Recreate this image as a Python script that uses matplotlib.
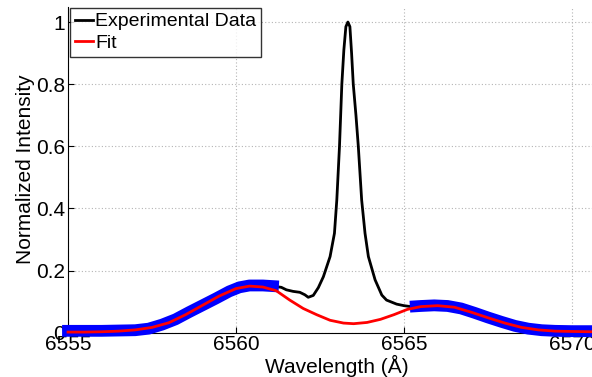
import numpy as np
import matplotlib.pyplot as plt

plt.rcParams['font.family'] = ['Liberation Sans', 'DejaVu Sans']

# Experimental spectrum
wavelength = [6555.0, 6555.5, 6556.0, 6556.5, 6557.0, 6557.4, 6557.8, 6558.2,
              6558.6, 6559.0, 6559.4, 6559.8, 6560.1, 6560.4, 6560.8, 6561.1,
              6561.35, 6561.5, 6561.7, 6561.9, 6562.05, 6562.15, 6562.3, 6562.45,
              6562.6, 6562.8, 6562.93, 6563.0, 6563.08, 6563.15, 6563.21, 6563.27,
              6563.33, 6563.39, 6563.44, 6563.49, 6563.57, 6563.64, 6563.74, 6563.84,
              6563.94, 6564.14, 6564.34, 6564.48, 6564.78, 6565.0, 6565.2, 6565.35,
              6565.5, 6565.9, 6566.3, 6566.7, 6567.1, 6567.5, 6567.9, 6568.3,
              6568.7, 6569.1, 6569.5, 6570.0, 6570.6]
intensity = [0.006, 0.006, 0.006, 0.007, 0.008, 0.013, 0.026, 0.043,
             0.066, 0.088, 0.110, 0.133, 0.146, 0.152, 0.152, 0.150,
             0.146, 0.138, 0.133, 0.130, 0.122, 0.114, 0.120, 0.145,
             0.180, 0.245, 0.320, 0.427, 0.600, 0.800, 0.910, 0.985,
             1.000, 0.985, 0.900, 0.800, 0.700, 0.600, 0.427, 0.320,
             0.245, 0.170, 0.121, 0.105, 0.092, 0.087, 0.084, 0.085,
             0.086, 0.088, 0.086, 0.078, 0.064, 0.049, 0.035, 0.022,
             0.013, 0.008, 0.006, 0.005, 0.005]

# Fitted profile
fit_wavelength = [6555.0, 6555.5, 6556.0, 6556.5, 6557.0, 6557.5, 6558.0, 6558.5,
                  6559.0, 6559.5, 6560.0, 6560.4, 6560.8, 6561.2, 6561.6, 6562.0,
                  6562.4, 6562.8, 6563.2, 6563.5, 6563.9, 6564.3, 6564.7, 6565.1,
                  6565.5, 6566.0, 6566.5, 6567.0, 6567.5, 6568.0, 6568.5, 6569.0,
                  6569.5, 6570.0, 6570.6]
fit_intensity = [0.002, 0.002, 0.003, 0.005, 0.009, 0.017, 0.032, 0.058,
                 0.088, 0.118, 0.142, 0.150, 0.147, 0.135, 0.105, 0.078,
                 0.058, 0.040, 0.031, 0.029, 0.033, 0.043, 0.058, 0.075,
                 0.084, 0.087, 0.082, 0.066, 0.048, 0.031, 0.017, 0.009,
                 0.005, 0.004, 0.003]

# Wing regions used for the fit
left_wing_end = 6561.1
right_wing_start = 6565.35

wl = np.array(wavelength)
it = np.array(intensity)
left = wl <= left_wing_end
right = wl >= right_wing_start

fig = plt.figure(figsize=(5.92, 3.77), dpi=100)
ax = fig.add_axes([68 / 592, 44.3 / 377, 537.6 / 592, 326.2 / 377])

# Plot
ax.plot(wl, it, color='black', lw=2.0, label='Experimental Data', zorder=3)
for m in (left, right):
    ax.plot(wl[m], it[m], color='#0000ff', lw=8.5, solid_capstyle='projecting',
            solid_joinstyle='round', clip_on=False, zorder=4)
ax.plot(fit_wavelength, fit_intensity, color='red', lw=2.0, label='Fit',
        clip_on=False, zorder=5)

ax.set_xlim(6555, 6571)
ax.set_ylim(0, 1.05)
ax.set_xticks([6555, 6560, 6565, 6570])
ax.set_yticks([0, 0.2, 0.4, 0.6, 0.8, 1])
ax.set_yticklabels(['0', '0.2', '0.4', '0.6', '0.8', '1'])

ax.spines['top'].set_visible(False)
ax.spines['right'].set_visible(False)
ax.tick_params(direction='in', length=4, width=0.8, labelsize=15, pad=2)
ax.grid(True, color='#b4b4b4', linestyle=(0, (1, 2)), lw=0.8)
ax.set_axisbelow(True)

ax.set_xlabel('Wavelength (Å)', fontsize=15, labelpad=0)
ax.set_ylabel('Normalized Intensity', fontsize=15, labelpad=1)

# Legend
leg = ax.legend(loc='upper left', bbox_to_anchor=(70 / 592, 1 - 8 / 377),
                bbox_transform=fig.transFigure, fontsize=14, frameon=True,
                fancybox=False, borderaxespad=0, handlelength=0.95,
                handletextpad=0.1, labelspacing=0.2, borderpad=0.25)
leg.get_frame().set_edgecolor('black')
leg.get_frame().set_linewidth(1.0)
leg.set_zorder(10)

fig.savefig('out.png', dpi=100)
